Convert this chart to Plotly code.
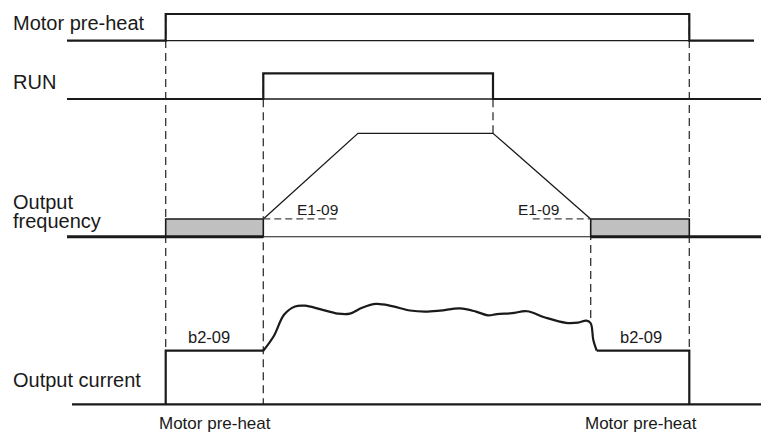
import plotly.graph_objects as go

# ---------------- data (time axis in arbitrary units, left to right) ----------------
T_START = 67.0
T_CUR_START = 72.0
T_PREHEAT_ON = 165.7
T_RUN_ON = 263.3
T_ACCEL_END = 358.0
T_RUN_OFF = 493.0
T_DECEL_END = 590.7
T_CUR_DROP_END = 596.7
T_PREHEAT_OFF = 689.3
T_PREHEAT_END = 754.0
T_END = 761.0
E1_REF_LEN = 75.0          # length of the E1-09 reference dashes (time units)

preheat_t = [T_START, T_PREHEAT_ON, T_PREHEAT_ON, T_PREHEAT_OFF, T_PREHEAT_OFF, T_PREHEAT_END]
preheat_level = [0, 0, 1, 1, 0, 0]

run_t = [T_START, T_RUN_ON, T_RUN_ON, T_RUN_OFF, T_RUN_OFF, T_END]
run_level = [0, 0, 1, 1, 0, 0]

F_MAX = 60.0
E1_09 = 10.3
freq_t = [T_RUN_ON, T_ACCEL_END, T_RUN_OFF, T_DECEL_END]
freq_hz = [E1_09, F_MAX, F_MAX, E1_09]

B2_09 = 50.0
cur_curve_t = [263.3, 274.0, 284.0, 295.0, 305.0, 320.0, 338.0, 350.0, 362.0, 376.0,
               392.0, 410.0, 425.0, 440.0, 460.0, 476.0, 488.0, 497.0, 512.0, 527.0,
               545.0, 566.0, 578.0, 586.5, 590.7, 593.3, 596.7]
cur_curve_pct = [50.0, 64.0, 83.5, 91.3, 92.0, 88.8, 84.6, 84.6, 90.0, 93.6,
                 91.6, 87.5, 86.4, 87.3, 89.4, 86.5, 83.0, 84.2, 85.0, 86.8,
                 81.0, 76.0, 76.2, 78.0, 75.6, 60.0, 50.0]

row_labels = ["Motor pre-heat", "RUN", "Output", "frequency", "Output current"]
param_freq = "E1-09"
param_cur = "b2-09"
bottom_label = "Motor pre-heat"

# ---------------- layout helpers ----------------
W, H = 761, 432
FONT = "Liberation Sans, Arial, sans-serif"
INK = "#1a1a1a"

# pixel rows for two reference levels of each row axis: (px0, v0, px1, v1)
ROWS = {
    "y":  (40.7, 0.0, 14.0, 1.0),
    "y2": (99.0, 0.0, 73.3, 1.0),
    "y3": (236.7, 0.0, 133.3, F_MAX),
    "y4": (404.3, 0.0, 350.7, B2_09),
}


def axis_range(ax):
    p0, v0, p1, v1 = ROWS[ax]
    k = (v1 - v0) / (p0 - p1)
    return [v0 - (H - p0) * k, v0 + p0 * k]


def paper_of(ax, v):
    p0, v0, p1, v1 = ROWS[ax]
    py = p0 - (v - v0) * (p0 - p1) / (v1 - v0)
    return 1 - py / H


fig = go.Figure()


def line(x, y, ax, width, color=INK, dash=None, shape="linear", fill=None, fillcolor=None):
    fig.add_trace(go.Scatter(
        x=x, y=y, yaxis=ax, mode="lines", hoverinfo="skip", showlegend=False,
        line=dict(color=color, width=width, dash=dash, shape=shape, smoothing=1.0),
        fill=fill, fillcolor=fillcolor))


# Motor pre-heat
line([T_PREHEAT_ON, T_PREHEAT_OFF], [0, 0], "y", 1.3)
line(preheat_t, preheat_level, "y", 2.2)
# RUN
line([T_RUN_ON, T_RUN_OFF], [0, 0], "y2", 1.3)
line(run_t, run_level, "y2", 2.2)
# Output frequency
line([T_PREHEAT_ON, T_PREHEAT_ON, T_RUN_ON, T_RUN_ON, T_PREHEAT_ON], [0, E1_09, E1_09, 0, 0],
     "y3", 1.6, fill="toself", fillcolor="#c0c0c0")
line([T_DECEL_END, T_DECEL_END, T_PREHEAT_OFF, T_PREHEAT_OFF, T_DECEL_END], [0, E1_09, E1_09, 0, 0],
     "y3", 1.6, fill="toself", fillcolor="#c0c0c0")
line([T_RUN_ON, T_DECEL_END], [0, 0], "y3", 1.1)
line([T_START, T_RUN_ON], [0, 0], "y3", 3.0)
line([T_DECEL_END, T_END], [0, 0], "y3", 3.0)
line(freq_t, freq_hz, "y3", 1.3)
line([T_RUN_ON, T_RUN_ON + E1_REF_LEN], [E1_09, E1_09], "y3", 1.3, color="#444", dash="7px,4px")
line([T_DECEL_END - 58, T_DECEL_END], [E1_09, E1_09], "y3", 1.3, color="#444", dash="7px,4px")
# Output current
line([T_CUR_START, T_END], [0, 0], "y4", 2.2)
line([T_PREHEAT_ON, T_PREHEAT_ON, T_RUN_ON], [0, B2_09, B2_09], "y4", 2.2)
line(cur_curve_t, cur_curve_pct, "y4", 2.2, shape="spline")
line([T_CUR_DROP_END, T_PREHEAT_OFF, T_PREHEAT_OFF], [B2_09, B2_09, 0], "y4", 2.2)

# vertical dashed guides at the event times
guides = [
    (T_PREHEAT_ON, ("y", 1.0), ("y4", B2_09)),
    (T_RUN_ON, ("y2", 1.0), ("y4", 0.0)),
    (T_RUN_OFF, ("y2", 1.0), ("y3", F_MAX)),
    (T_DECEL_END, ("y3", E1_09), ("y4", 76.0)),
    (T_PREHEAT_OFF, ("y", 1.0), ("y4", B2_09)),
]
shapes = []
for t, top, bot in guides:
    shapes.append(dict(type="line", xref="x", yref="paper", x0=t, x1=t,
                       y0=paper_of(*top), y1=paper_of(*bot), layer="below",
                       line=dict(color="#333", width=1.3, dash="8px,5px")))


def label(text, x_px, baseline_px, size, anchor="left"):
    top_px = baseline_px - 1 - 0.905 * size
    return dict(text=text, xref="paper", yref="paper", x=(x_px - 1 if anchor == "left" else x_px + 1) / W,
                y=1 - top_px / H, xanchor=anchor, yanchor="top", showarrow=False,
                font=dict(family=FONT, size=size, color=INK))


annotations = [
    label(row_labels[0], 12, 29.3, 20),
    label(row_labels[1], 12, 88.3, 20),
    label(row_labels[2], 12, 208.3, 20),
    label(row_labels[3], 12, 227.3, 20),
    label(row_labels[4], 12, 386.0, 20),
    label(param_freq, 296, 214.0, 15.5),
    label(param_freq, 516.7, 214.0, 15.5),
    label(param_cur, 187, 342.3, 16.5),
    label(param_cur, 619.3, 342.3, 16.5),
    label(bottom_label, 158, 428.5, 17),
    label(bottom_label, 698, 428.5, 17, anchor="right"),
]

hidden = dict(visible=False, showgrid=False, zeroline=False, fixedrange=True)
layout = dict(
    width=W, height=H, margin=dict(l=0, r=0, t=0, b=0),
    paper_bgcolor="white", plot_bgcolor="white",
    xaxis=dict(range=[0, W], domain=[0, 1], **hidden),
    yaxis=dict(range=axis_range("y"), domain=[0, 1], **hidden),
    shapes=shapes, annotations=annotations, showlegend=False,
)
for ax in ["y2", "y3", "y4"]:
    layout["yaxis" + ax[1:]] = dict(range=axis_range(ax), domain=[0, 1], overlaying="y", **hidden)
fig.update_layout(**layout)

fig.write_html(
    "out.html",
    config={"displayModeBar": False},
    post_script="document.body.style.margin='0';document.body.style.overflow='hidden';",
)
